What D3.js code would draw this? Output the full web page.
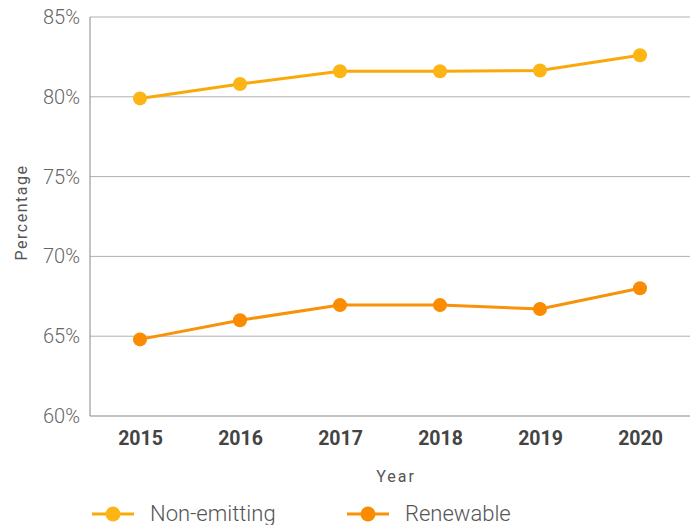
<!DOCTYPE html>
<html>
<head>
<meta charset="utf-8">
<script src="https://cdn.jsdelivr.net/npm/d3@7"></script>
<style>
  body { margin: 0; background: #fff; font-family: Roboto, "Noto Sans", sans-serif; }
</style>
</head>
<body>
<div id="chart"></div>
<script>
// data
const years = ["2015", "2016", "2017", "2018", "2019", "2020"];
const nonEmitting = [79.9, 80.8, 81.6, 81.6, 81.65, 82.6];
const renewable = [64.8, 66.0, 66.95, 66.95, 66.7, 68.0];
const yTicks = [60, 65, 70, 75, 80, 85];

const width = 698, height = 525;
const margin = {top: 17, right: 8, bottom: 109, left: 90};

const svg = d3.select("#chart").append("svg")
    .attr("width", width)
    .attr("height", height);

const g = svg.append("g")
    .attr("transform", `translate(${margin.left},${margin.top})`);

const w = width - margin.left - margin.right;
const h = height - margin.top - margin.bottom;

let x = d3.scalePoint()
    .domain(years)
    .range([0, w])
    .padding(0.5);

let y = d3.scaleLinear()
    .domain([60, 85])
    .range([h, 0]);

// gridlines
g.selectAll(".grid")
    .data(yTicks.slice(1))
    .enter().append("line")
    .attr("x1", 0).attr("x2", w)
    .attr("y1", d => y(d)).attr("y2", d => y(d))
    .attr("stroke", "#b0b0b0")
    .attr("stroke-width", 1);

// axis lines
g.append("line")
    .attr("x1", 0).attr("x2", 0)
    .attr("y1", 0).attr("y2", h)
    .attr("stroke", "#888");
g.append("line")
    .attr("x1", 0).attr("x2", w)
    .attr("y1", h).attr("y2", h)
    .attr("stroke", "#888");

let yAxis = g.append("g")
    .call(d3.axisLeft(y).tickValues(yTicks).tickFormat(d => d + "%").tickSize(0).tickPadding(10));
yAxis.select(".domain").remove();
yAxis.selectAll("text")
    .style("font-family", "Roboto, sans-serif")
    .style("font-size", "20px")
    .style("font-weight", "300")
    .style("fill", "#666");

let xAxis = g.append("g")
    .attr("transform", `translate(0,${h})`)
    .call(d3.axisBottom(x).tickSize(0).tickPadding(15));
xAxis.select(".domain").remove();
xAxis.selectAll("text")
    .style("font-family", "Roboto, sans-serif")
    .style("font-size", "19.5px")
    .style("font-weight", "bold")
    .style("fill", "#444");

// axis titles
svg.append("text")
    .attr("transform", `translate(27, ${margin.top + h / 2 - 4}) rotate(-90)`)
    .style("text-anchor", "middle")
    .style("font-size", "16px")
    .style("letter-spacing", "1.5px")
    .style("fill", "#555")
    .text("Percentage");

svg.append("text")
    .attr("x", 396).attr("y", 482)
    .style("text-anchor", "middle")
    .style("font-size", "16px")
    .style("letter-spacing", "2px")
    .style("fill", "#555")
    .text("Year");

// series
const series = [
    {name: "Non-emitting", values: nonEmitting, color: "#FDB515", line: "#F9A90A"},
    {name: "Renewable", values: renewable, color: "#FB8C00", line: "#F7920A"}
];

const line = d3.line()
    .x((d, i) => x(years[i]))
    .y(d => y(d));

series.forEach(s => {
    g.append("path")
        .datum(s.values)
        .attr("fill", "none")
        .attr("stroke", s.line)
        .attr("stroke-width", 3)
        .attr("d", line);
    g.selectAll(null)
        .data(s.values)
        .enter().append("circle")
        .attr("cx", (d, i) => x(years[i]))
        .attr("cy", d => y(d))
        .attr("r", 7)
        .attr("fill", s.color);
});

// legend
const legendX = [92, 347];
series.forEach((s, i) => {
    let lg = svg.append("g").attr("transform", `translate(${legendX[i]}, 514)`);
    lg.append("line")
        .attr("x1", 0).attr("x2", 42)
        .attr("stroke", s.line).attr("stroke-width", 3);
    lg.append("circle")
        .attr("cx", 21).attr("r", 7.5)
        .attr("fill", s.color);
    lg.append("text")
        .attr("x", 58).attr("y", 7)
        .style("font-size", "22px")
        .style("font-weight", "300")
        .style("fill", "#555")
        .text(s.name);
});
</script>
</body>
</html>
